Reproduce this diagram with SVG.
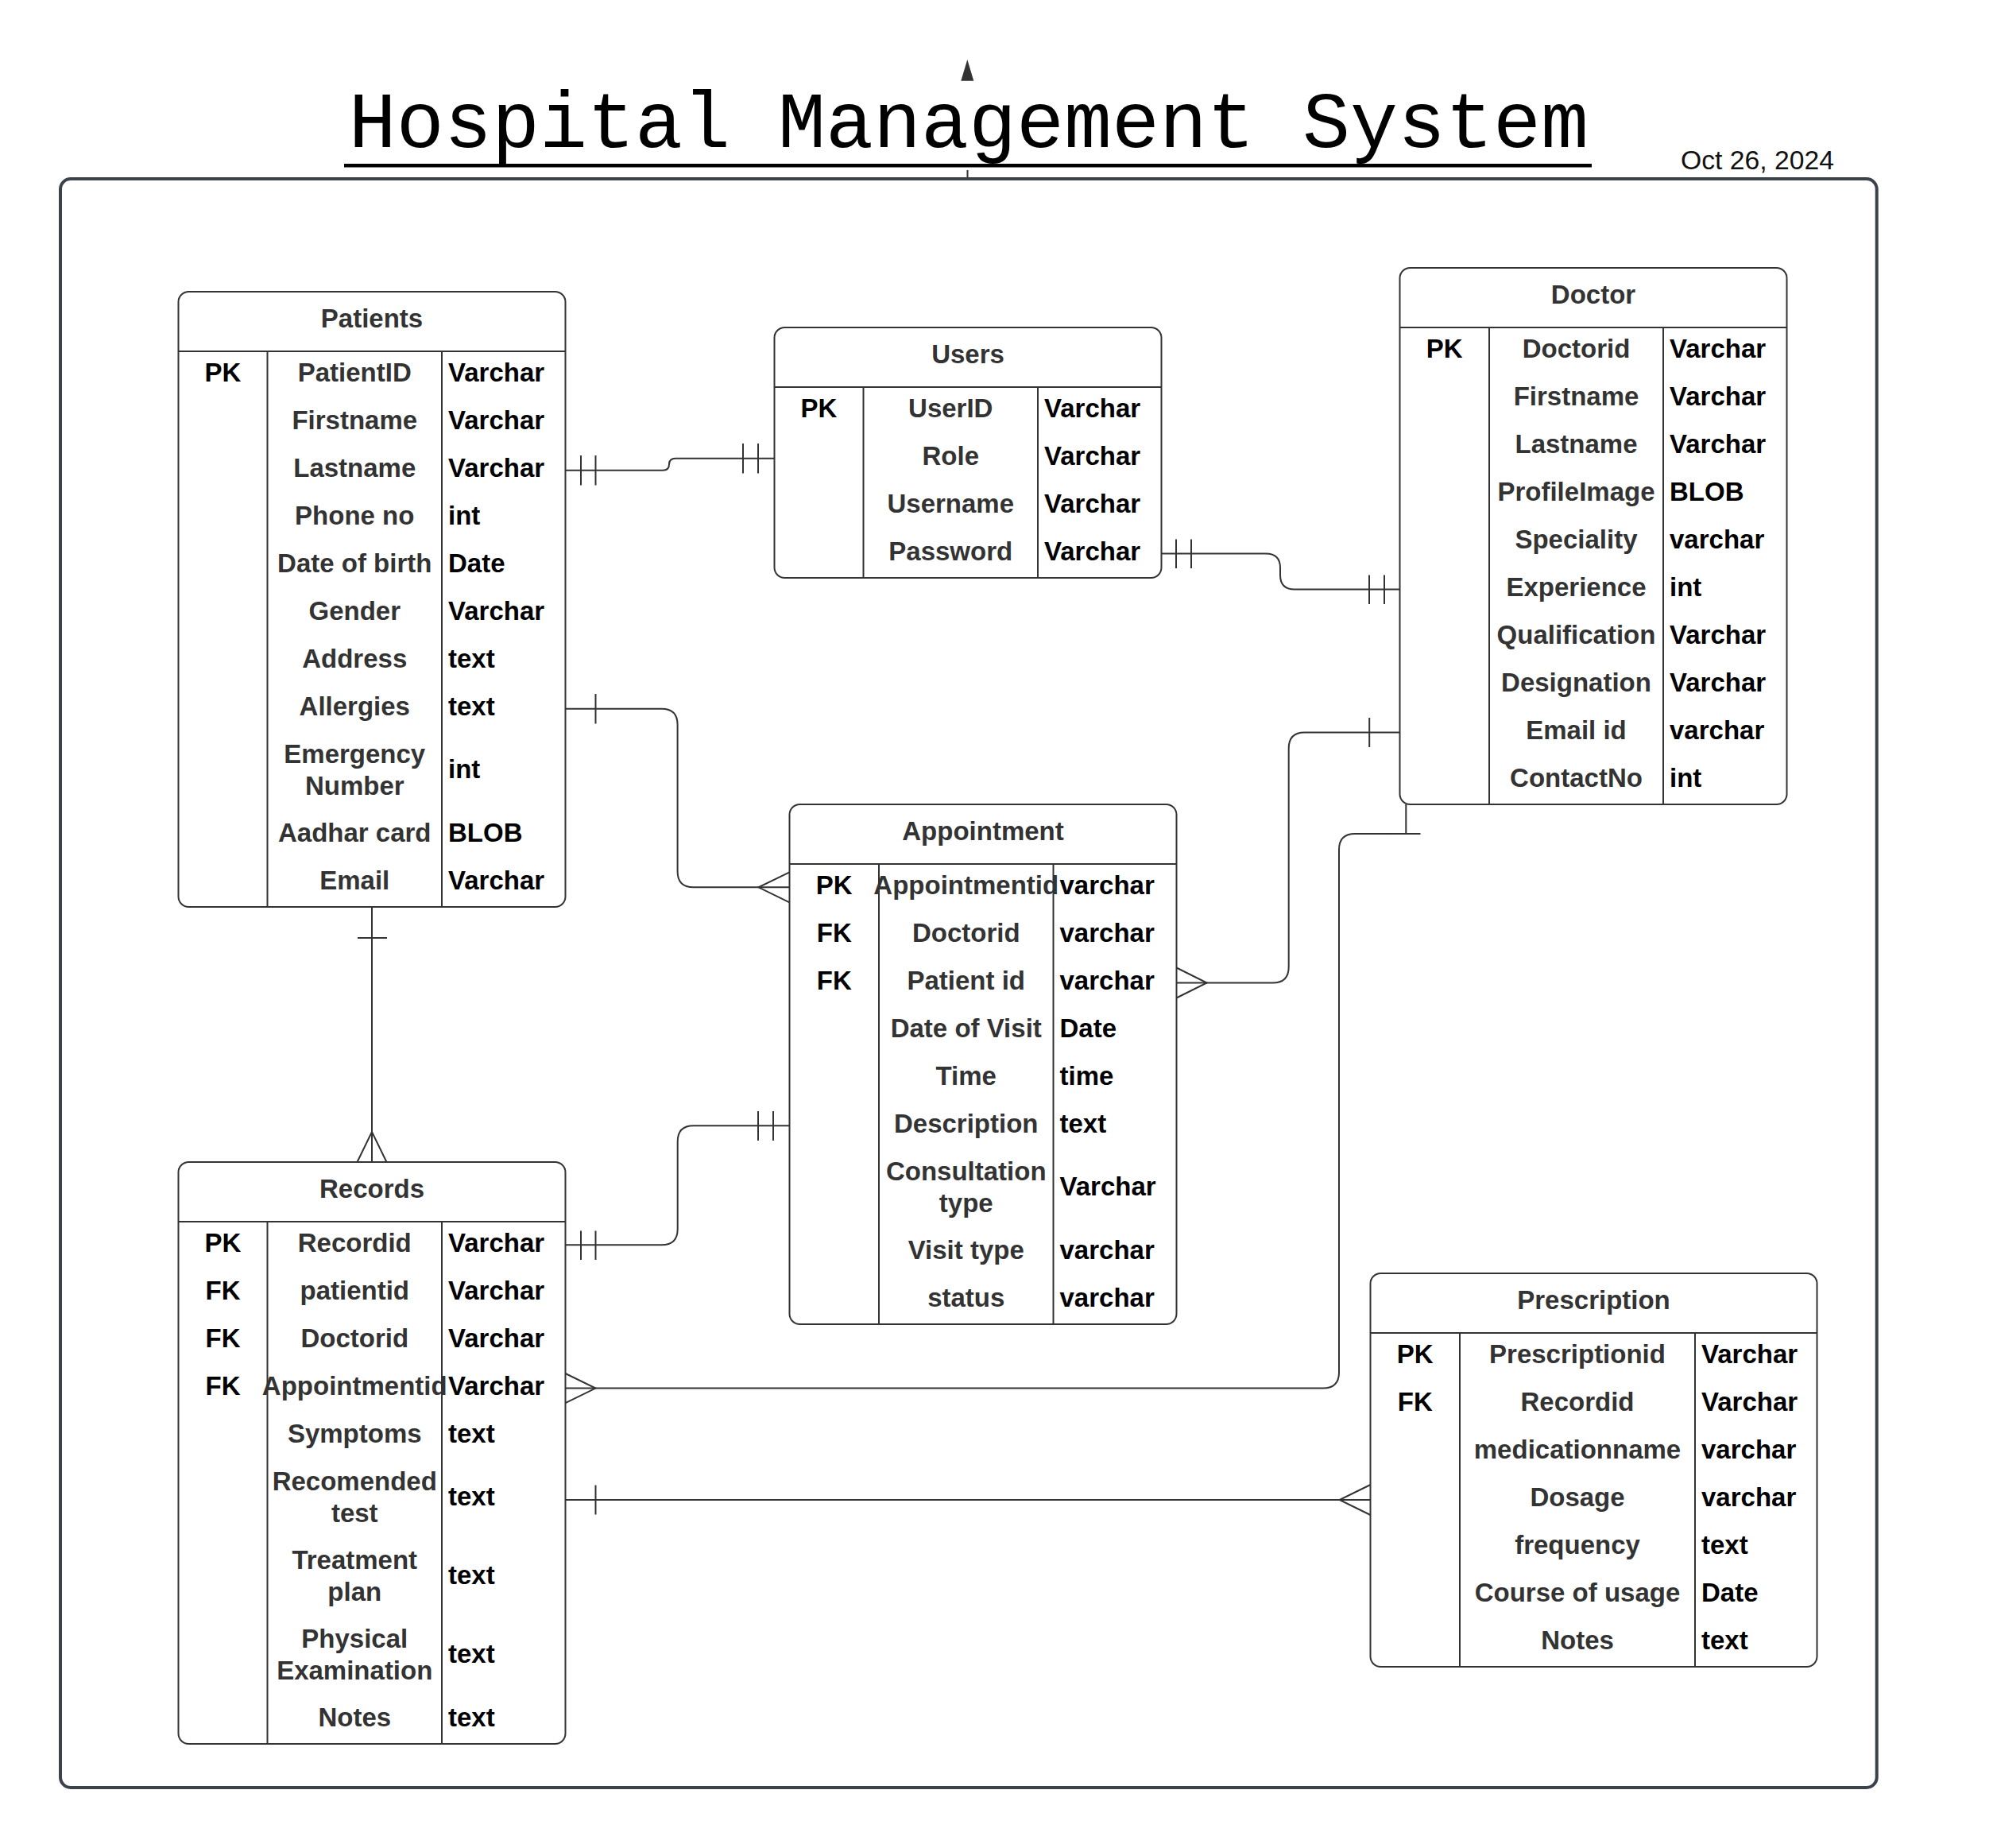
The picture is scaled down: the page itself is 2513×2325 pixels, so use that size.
<svg xmlns="http://www.w3.org/2000/svg" width="2513" height="2325" viewBox="0 0 2513 2325">
<style>
.frame{fill:none;stroke:#3b424c;stroke-width:4}
.box{fill:#ffffff;stroke:#333333;stroke-width:2}
.ln{fill:none;stroke:#333333;stroke-width:2}
.cn{fill:none;stroke:#333333;stroke-width:2}
.tk{fill:none;stroke:#333333;stroke-width:2}
.ttl{font-family:"Liberation Sans",Arial,sans-serif;font-weight:bold;font-size:33px;fill:#333333;text-anchor:middle}
.key{font-family:"Liberation Sans",Arial,sans-serif;font-weight:bold;font-size:33px;fill:#000000;text-anchor:middle}
.nm{font-family:"Liberation Sans",Arial,sans-serif;font-weight:bold;font-size:33px;fill:#333333;text-anchor:middle}
.ty{font-family:"Liberation Sans",Arial,sans-serif;font-weight:bold;font-size:33px;fill:#000000}
</style>
<rect width="2513" height="2325" fill="#ffffff"/>
<g id="header">
<polygon points="1217.3,75 1209.3,101.7 1225.3,101.7" fill="#333333"/>
<text x="1219" y="185" font-family="'Liberation Mono','Courier New',monospace" font-size="100" fill="#000000" text-anchor="middle">Hospital Management System</text>
<rect x="433" y="206" width="1570" height="4.5" fill="#000000"/>
<line x1="1217.5" y1="214" x2="1217.5" y2="224" stroke="#333333" stroke-width="2"/>
<text x="2115" y="213" font-family="'Liberation Sans',Arial,sans-serif" font-size="33.7" fill="#111111">Oct 26, 2024</text>
</g>
<rect id="frame" class="frame" x="76" y="225" width="2285.7" height="2024" rx="13"/>

<g id="connectors">
<!-- Patients - Users -->
<path class="cn" d="M711.5 591.7 H834 Q842 591.7 842 584.2 Q842 576.7 850 576.7 H974.5"/>
<path class="tk" d="M731 573 V610.5 M749.5 573 V610.5 M935 558 V595.5 M954 558 V595.5"/>
<!-- Users - Doctor -->
<path class="cn" d="M1461.5 696.5 H1593 Q1611 696.5 1611 714.5 V723.5 Q1611 741.5 1629 741.5 H1761.5"/>
<path class="tk" d="M1480 678.5 V715 M1499 678.5 V715 M1723 723.5 V760 M1742 723.5 V760"/>
<!-- Patients - Appointment -->
<path class="cn" d="M711.5 891.8 H832.6 Q852.6 891.8 852.6 911.8 V1096.3 Q852.6 1116.3 872.6 1116.3 H993.5"/>
<path class="tk" d="M749.5 873 V910.5 M993.5 1097.3 L954.5 1116.3 L993.5 1135.3"/>
<!-- Doctor - Appointment -->
<path class="cn" d="M1761.5 921.5 H1641.7 Q1621.7 921.5 1621.7 941.5 V1216.5 Q1621.7 1236.5 1601.7 1236.5 H1480.5"/>
<path class="tk" d="M1723.2 903 V940 M1480.5 1217.5 L1518.7 1236.5 L1480.5 1255.5"/>
<!-- Patients - Records -->
<path class="cn" d="M468 1141 V1462"/>
<path class="tk" d="M450 1180 H487 M449.5 1462 L468 1424 L486.5 1462"/>
<!-- Records - Appointment -->
<path class="cn" d="M711.5 1566.3 H832.7 Q852.7 1566.3 852.7 1546.3 V1436.2 Q852.7 1416.2 872.7 1416.2 H993.5"/>
<path class="tk" d="M731 1548.5 V1585 M749.5 1548.5 V1585 M954 1398 V1435 M973 1398 V1435"/>
<!-- Records - Doctor -->
<path class="cn" d="M711.5 1746.6 H1665 Q1685 1746.6 1685 1726.6 V1069 Q1685 1049 1705 1049 H1769.3 V1012"/>
<path class="tk" d="M1751.5 1049 H1787.5 M711.5 1728 L749.5 1746.6 L711.5 1765.2"/>
<!-- Records - Prescription -->
<path class="cn" d="M711.5 1887 H1724.5"/>
<path class="tk" d="M749.5 1868.5 V1905.5 M1724.5 1868 L1685.6 1887 L1724.5 1906"/>
</g>

<g id="patients">
<rect class="box" x="224.5" y="367" width="487" height="774" rx="13"/>
<path class="ln" d="M224.5 442 H711.5 M336.5 442 V1141 M556 442 V1141"/>
<text class="ttl" x="468" y="411.5">Patients</text>
<text class="key" x="280.5" y="479.5">PK</text>
<text class="nm" x="446.25" y="479.5">PatientID</text><text class="ty" x="564" y="479.5">Varchar</text>
<text class="nm" x="446.25" y="539.5">Firstname</text><text class="ty" x="564" y="539.5">Varchar</text>
<text class="nm" x="446.25" y="599.5">Lastname</text><text class="ty" x="564" y="599.5">Varchar</text>
<text class="nm" x="446.25" y="659.5">Phone no</text><text class="ty" x="564" y="659.5">int</text>
<text class="nm" x="446.25" y="719.5">Date of birth</text><text class="ty" x="564" y="719.5">Date</text>
<text class="nm" x="446.25" y="779.5">Gender</text><text class="ty" x="564" y="779.5">Varchar</text>
<text class="nm" x="446.25" y="839.5">Address</text><text class="ty" x="564" y="839.5">text</text>
<text class="nm" x="446.25" y="899.5">Allergies</text><text class="ty" x="564" y="899.5">text</text>
<text class="nm" x="446.25" y="959.5">Emergency</text><text class="nm" x="446.25" y="999.5">Number</text><text class="ty" x="564" y="979">int</text>
<text class="nm" x="446.25" y="1058.5">Aadhar card</text><text class="ty" x="564" y="1058.5">BLOB</text>
<text class="nm" x="446.25" y="1118.5">Email</text><text class="ty" x="564" y="1118.5">Varchar</text>
</g>

<g id="users">
<rect class="box" x="974.5" y="412" width="487" height="315" rx="13"/>
<path class="ln" d="M974.5 487 H1461.5 M1086.5 487 V727 M1306 487 V727"/>
<text class="ttl" x="1218" y="457">Users</text>
<text class="key" x="1030.5" y="524.5">PK</text>
<text class="nm" x="1196.25" y="524.5">UserID</text><text class="ty" x="1314" y="524.5">Varchar</text>
<text class="nm" x="1196.25" y="584.5">Role</text><text class="ty" x="1314" y="584.5">Varchar</text>
<text class="nm" x="1196.25" y="644.5">Username</text><text class="ty" x="1314" y="644.5">Varchar</text>
<text class="nm" x="1196.25" y="704.5">Password</text><text class="ty" x="1314" y="704.5">Varchar</text>
</g>

<g id="doctor">
<rect class="box" x="1761.5" y="337" width="487" height="675" rx="13"/>
<path class="ln" d="M1761.5 412 H2248.5 M1874 412 V1012 M2093 412 V1012"/>
<text class="ttl" x="2005" y="382">Doctor</text>
<text class="key" x="1817.75" y="449.5">PK</text>
<text class="nm" x="1983.5" y="449.5">Doctorid</text><text class="ty" x="2101" y="449.5">Varchar</text>
<text class="nm" x="1983.5" y="509.5">Firstname</text><text class="ty" x="2101" y="509.5">Varchar</text>
<text class="nm" x="1983.5" y="569.5">Lastname</text><text class="ty" x="2101" y="569.5">Varchar</text>
<text class="nm" x="1983.5" y="629.5">ProfileImage</text><text class="ty" x="2101" y="629.5">BLOB</text>
<text class="nm" x="1983.5" y="689.5">Speciality</text><text class="ty" x="2101" y="689.5">varchar</text>
<text class="nm" x="1983.5" y="749.5">Experience</text><text class="ty" x="2101" y="749.5">int</text>
<text class="nm" x="1983.5" y="809.5">Qualification</text><text class="ty" x="2101" y="809.5">Varchar</text>
<text class="nm" x="1983.5" y="869.5">Designation</text><text class="ty" x="2101" y="869.5">Varchar</text>
<text class="nm" x="1983.5" y="929.5">Email id</text><text class="ty" x="2101" y="929.5">varchar</text>
<text class="nm" x="1983.5" y="989.5">ContactNo</text><text class="ty" x="2101" y="989.5">int</text>
</g>

<g id="appointment">
<rect class="box" x="993.5" y="1012" width="487" height="654" rx="13"/>
<path class="ln" d="M993.5 1087 H1480.5 M1106 1087 V1666 M1325.5 1087 V1666"/>
<text class="ttl" x="1237" y="1057">Appointment</text>
<text class="key" x="1049.75" y="1124.5">PK</text>
<text class="nm" x="1215.75" y="1124.5">Appointmentid</text><text class="ty" x="1333.5" y="1124.5">varchar</text>
<text class="key" x="1049.75" y="1184.5">FK</text>
<text class="nm" x="1215.75" y="1184.5">Doctorid</text><text class="ty" x="1333.5" y="1184.5">varchar</text>
<text class="key" x="1049.75" y="1244.5">FK</text>
<text class="nm" x="1215.75" y="1244.5">Patient id</text><text class="ty" x="1333.5" y="1244.5">varchar</text>
<text class="nm" x="1215.75" y="1304.5">Date of Visit</text><text class="ty" x="1333.5" y="1304.5">Date</text>
<text class="nm" x="1215.75" y="1364.5">Time</text><text class="ty" x="1333.5" y="1364.5">time</text>
<text class="nm" x="1215.75" y="1424.5">Description</text><text class="ty" x="1333.5" y="1424.5">text</text>
<text class="nm" x="1215.75" y="1484.5">Consultation</text><text class="nm" x="1215.75" y="1524.5">type</text><text class="ty" x="1333.5" y="1504">Varchar</text>
<text class="nm" x="1215.75" y="1583.5">Visit type</text><text class="ty" x="1333.5" y="1583.5">varchar</text>
<text class="nm" x="1215.75" y="1643.5">status</text><text class="ty" x="1333.5" y="1643.5">varchar</text>
</g>

<g id="records">
<rect class="box" x="224.5" y="1462" width="487" height="732" rx="13"/>
<path class="ln" d="M224.5 1537 H711.5 M336.5 1537 V2194 M556 1537 V2194"/>
<text class="ttl" x="468" y="1506.5">Records</text>
<text class="key" x="280.5" y="1574.5">PK</text>
<text class="nm" x="446.25" y="1574.5">Recordid</text><text class="ty" x="564" y="1574.5">Varchar</text>
<text class="key" x="280.5" y="1634.5">FK</text>
<text class="nm" x="446.25" y="1634.5">patientid</text><text class="ty" x="564" y="1634.5">Varchar</text>
<text class="key" x="280.5" y="1694.5">FK</text>
<text class="nm" x="446.25" y="1694.5">Doctorid</text><text class="ty" x="564" y="1694.5">Varchar</text>
<text class="key" x="280.5" y="1754.5">FK</text>
<text class="nm" x="446.25" y="1754.5">Appointmentid</text><text class="ty" x="564" y="1754.5">Varchar</text>
<text class="nm" x="446.25" y="1814.5">Symptoms</text><text class="ty" x="564" y="1814.5">text</text>
<text class="nm" x="446.25" y="1874.5">Recomended</text><text class="nm" x="446.25" y="1914.5">test</text><text class="ty" x="564" y="1894">text</text>
<text class="nm" x="446.25" y="1973.5">Treatment</text><text class="nm" x="446.25" y="2013.5">plan</text><text class="ty" x="564" y="1993">text</text>
<text class="nm" x="446.25" y="2072.5">Physical</text><text class="nm" x="446.25" y="2112.5">Examination</text><text class="ty" x="564" y="2092">text</text>
<text class="nm" x="446.25" y="2171.5">Notes</text><text class="ty" x="564" y="2171.5">text</text>
</g>

<g id="prescription">
<rect class="box" x="1724.5" y="1602" width="562" height="495" rx="13"/>
<path class="ln" d="M1724.5 1677 H2286.5 M1837 1677 V2097 M2133 1677 V2097"/>
<text class="ttl" x="2005.5" y="1647">Prescription</text>
<text class="key" x="1780.75" y="1714.5">PK</text>
<text class="nm" x="1985" y="1714.5">Prescriptionid</text><text class="ty" x="2141" y="1714.5">Varchar</text>
<text class="key" x="1780.75" y="1774.5">FK</text>
<text class="nm" x="1985" y="1774.5">Recordid</text><text class="ty" x="2141" y="1774.5">Varchar</text>
<text class="nm" x="1985" y="1834.5">medicationname</text><text class="ty" x="2141" y="1834.5">varchar</text>
<text class="nm" x="1985" y="1894.5">Dosage</text><text class="ty" x="2141" y="1894.5">varchar</text>
<text class="nm" x="1985" y="1954.5">frequency</text><text class="ty" x="2141" y="1954.5">text</text>
<text class="nm" x="1985" y="2014.5">Course of usage</text><text class="ty" x="2141" y="2014.5">Date</text>
<text class="nm" x="1985" y="2074.5">Notes</text><text class="ty" x="2141" y="2074.5">text</text>
</g>
</svg>
